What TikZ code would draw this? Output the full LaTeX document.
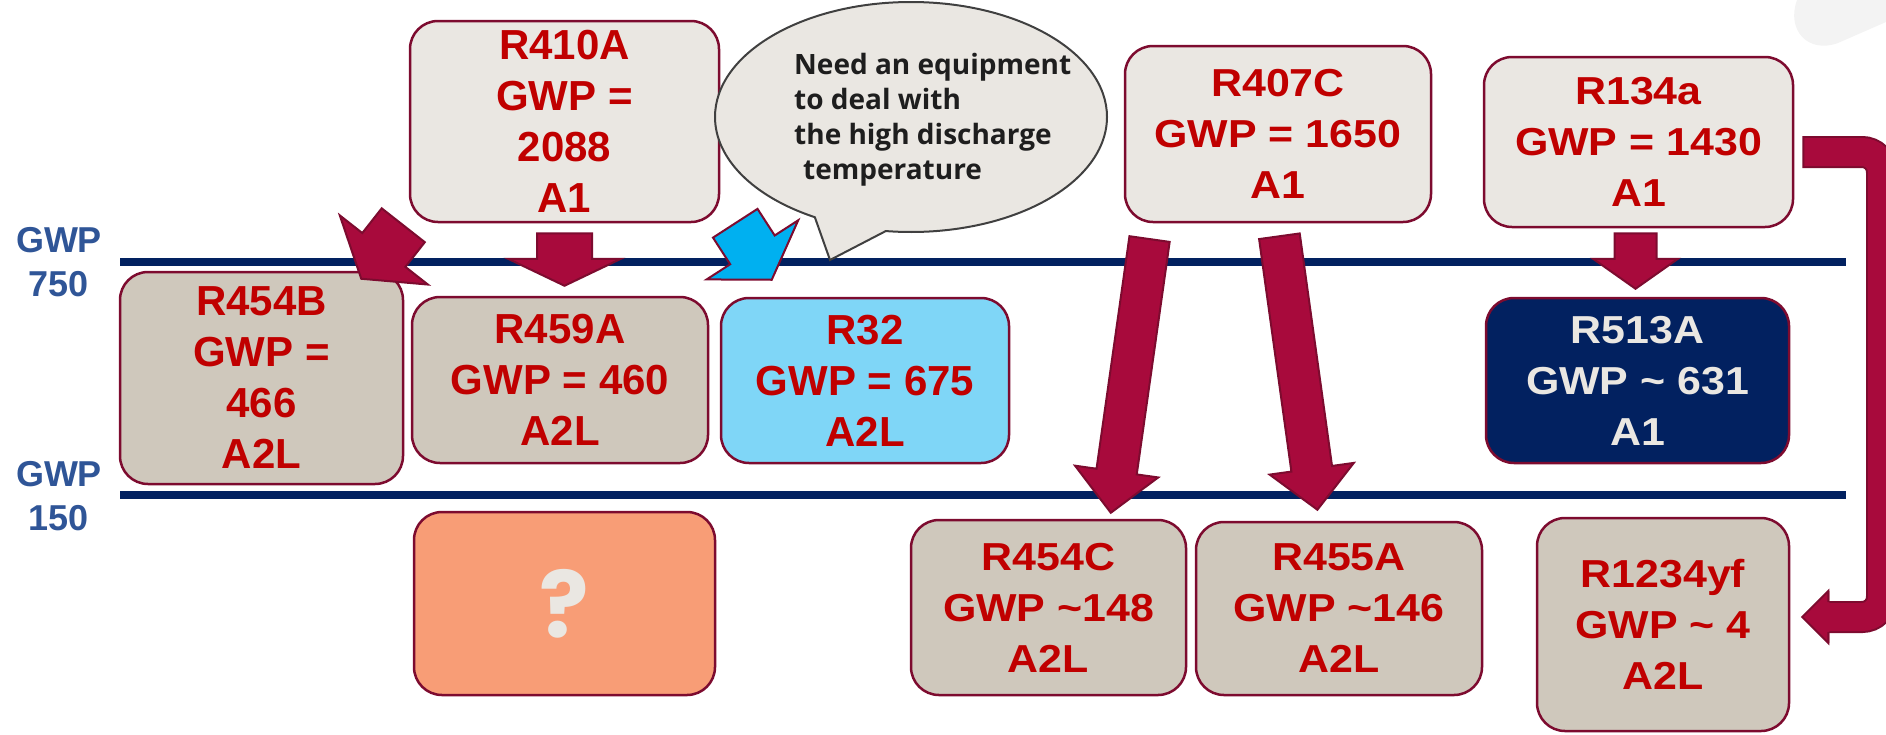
\documentclass[tikz,border=0pt]{standalone}
\usepackage{fontspec}
\usetikzlibrary{calc,shapes.callouts}
\setmainfont{Liberation Sans}
\newfontfamily\leftfont{Liberation Sans}
\newfontfamily\rightfont{Liberation Sans}[FakeStretch=1.1]
\newfontfamily\notefont{Open Sans}
\newfontfamily\qfont{Poppins}

\definecolor{paleBox}{HTML}{EAE7E2}
\definecolor{sandBox}{HTML}{CFC8BC}
\definecolor{skyBox}{HTML}{7FD6F7}
\definecolor{navy}{HTML}{022160}
\definecolor{salmon}{HTML}{F89D76}
\definecolor{wine}{HTML}{7D0B2F}
\definecolor{crimson}{HTML}{A80A3C}
\definecolor{refRed}{HTML}{C00000}
\definecolor{labelBlue}{HTML}{2F5597}
\definecolor{cyanArrow}{HTML}{00B0F0}
\definecolor{bubbleEdge}{HTML}{404040}
\definecolor{inkDark}{HTML}{1E1E1E}
\definecolor{haze}{HTML}{F3F3F3}

% block arrow: #1 style, #2 tail, #3 tip, #4 half shaft width, #5 half head width, #6 head length
\newcommand\blockarrow[6]{%
  \coordinate (hb) at ($(#3)!#6!(#2)$);
  \draw[#1] ($(#2)!#4!90:(#3)$) -- ($(hb)!#4!-90:(#2)$) -- ($(hb)!#5!-90:(#2)$)
    -- (#3) -- ($(hb)!#5!90:(#2)$) -- ($(hb)!#4!90:(#2)$) -- ($(#2)!#4!-90:(#3)$) -- cycle;
}

\tikzset{
  box/.style={draw=wine, line width=2.5pt, rounded corners=28pt, inner sep=0pt, align=center},
  lbox/.style={box, font=\leftfont\bfseries\fontsize{42}{51}\selectfont, text=refRed},
  rbox/.style={box, font=\rightfont\bfseries\fontsize{39}{51}\selectfont, text=refRed},
  level/.style={draw=navy, line width=8pt},
  gwplabel/.style={font=\leftfont\bfseries\fontsize{36}{44}\selectfont, text=labelBlue, align=center},
  redarrow/.style={fill=crimson, draw=wine, line width=2pt, line join=miter},
  bluearrow/.style={fill=cyanArrow, draw=wine, line width=2pt, line join=miter},
}

\begin{document}
\begin{tikzpicture}[x=1pt, y=-1pt]
\useasboundingbox (0,0) rectangle (1886,734);

% faint background shape in the corner
\fill[haze] (1797,0) -- (1886,0) -- (1886,22) -- (1838,43)
  .. controls (1808,54) and (1786,30) .. (1797,0) -- cycle;

% GWP threshold lines
\coordinate (hiL) at (120,262);  \coordinate (hiR) at (1846,262);
\coordinate (loL) at (120,495);  \coordinate (loR) at (1846,495);
\draw[level] (hiL) -- (hiR);
\draw[level] (loL) -- (loR);

\node[gwplabel] (gwp750) at (59,262) {GWP\\750};
\node[gwplabel] (gwp150) at (59,496) {GWP\\150};

% refrigerant boxes
\node[lbox, fill=paleBox, minimum width=309pt, minimum height=201pt] (r410a) at (564.5,121.5) {R410A\\GWP =\\2088\\A1};
\node[lbox, fill=sandBox, minimum width=283pt, minimum height=212pt] (r454b) at (261.5,378) {R454B\\GWP =\\466\\A2L};
\node[lbox, fill=sandBox, minimum width=296pt, minimum height=166pt] (r459a) at (560,380) {R459A\\GWP = 460\\A2L};
\node[lbox, fill=skyBox, minimum width=288pt, minimum height=165pt] (r32) at (865,380.5) {R32\\GWP = 675\\A2L};
\node[box, fill=salmon, minimum width=301pt, minimum height=183pt,
      font=\qfont\bfseries\fontsize{92}{92}\selectfont, text=paleBox] (unknown) at (564.5,603.5) {?};

\node[rbox, fill=paleBox, minimum width=306pt, minimum height=176pt] (r407c) at (1278,134) {R407C\\GWP = 1650\\A1};
\node[rbox, fill=paleBox, minimum width=309pt, minimum height=170pt] (r134a) at (1638.5,142) {R134a\\GWP = 1430\\A1};
\node[rbox, fill=navy, text=paleBox, minimum width=303pt, minimum height=165pt] (r513a) at (1637.5,380.5) {R513A\\GWP \textasciitilde{} 631\\A1};
\node[rbox, fill=sandBox, minimum width=275pt, minimum height=175pt] (r454c) at (1048.5,607.5) {R454C\\GWP \textasciitilde148\\A2L};
\node[rbox, fill=sandBox, minimum width=286pt, minimum height=173pt] (r455a) at (1339,608.5) {R455A\\GWP \textasciitilde146\\A2L};
\node[rbox, fill=sandBox, minimum width=252pt, minimum height=213pt] (r1234yf) at (1663,624.5) {R1234yf\\GWP \textasciitilde{} 4\\A2L};

% speech bubble
\coordinate (bubbleTip) at (830,260);
\node[ellipse callout, draw=bubbleEdge, fill=paleBox, line width=2pt,
      minimum width=392pt, minimum height=230pt, inner sep=0pt,
      callout absolute pointer={(bubbleTip)}, callout pointer arc=22] (bubble) at (911,117) {};
\node[font=\notefont\bfseries\fontsize{28}{35}\selectfont, text=inkDark, align=left,
      anchor=west, inner sep=0pt] (note) at ($(bubble.center)+(-117,3)$)
  {Need an equipment\\to deal with\\the high discharge\\\hspace*{9pt}temperature};

% straight block arrows
\coordinate (aTail) at ($(r410a.south)+(0,10)$);
\coordinate (aTip)  at ($(aTail |- r459a.north)+(0,-10)$);
\blockarrow{redarrow}{aTail}{aTip}{27.5pt}{56.5pt}{27pt}

\coordinate (bTail) at ($(r410a.south west)+(-5.5,2)$);
\coordinate (bTip)  at ($(r454b.north east)+(-43,8)$);
\blockarrow{redarrow}{bTail}{bTip}{27.4pt}{56pt}{36.6pt}

\coordinate (cTail) at ($(r410a.south east)+(15,0)$);
\coordinate (cTip)  at ($(r32.north west)+(52,-17)$);
\blockarrow{bluearrow}{cTail}{cTip}{26.5pt}{54.5pt}{35.6pt}

\coordinate (dTail) at ($(r407c.south west)+(25.8,15.8)$);
\coordinate (dTip)  at ($(r454c.north)+(62.3,-6)$);
\blockarrow{redarrow}{dTail}{dTip}{20.3pt}{42pt}{41.6pt}

\coordinate (eTail) at ($(r407c.south)+(1.4,13)$);
\coordinate (eTip)  at ($(r455a.north)+(-21.6,-11)$);
\blockarrow{redarrow}{eTail}{eTip}{20.5pt}{42.5pt}{41.4pt}

\coordinate (fTail) at ($(r134a.south)+(-3,5)$);
\coordinate (fTip)  at ($(r513a.north)+(-2,-8)$);
\blockarrow{redarrow}{fTail}{fTip}{21pt}{42.5pt}{30pt}

% bent arrow from R134a to R1234yf
\coordinate (bendStart) at ($(r134a.east)+(9,10)$);
\coordinate (bendTip)   at ($(r1234yf.east)+(12,-7.5)$);
\coordinate (bendTop)   at (1882,152);
\coordinate (bendBottom) at (bendTop |- bendTip);
\coordinate (bendBase)  at ($(bendTip)+(26,0)$);
\draw[wine, line width=32pt, rounded corners=20pt]
  ($(bendStart)+(-1,0)$) -- (bendTop) -- (bendBottom) -- (bendBase);
\draw[crimson, line width=28pt, rounded corners=20pt]
  ($(bendStart)+(1,0)$) -- (bendTop) -- (bendBottom) -- (bendBase);
\fill[crimson] ($(bendBase)+(1,-26)$) -- (bendTip) -- ($(bendBase)+(1,26)$) -- cycle;
\draw[wine, line width=2pt, line join=miter]
  ($(bendBase)+(0,-15)$) -- ($(bendBase)+(0,-26)$) -- (bendTip)
  -- ($(bendBase)+(0,26)$) -- ($(bendBase)+(0,15)$);
\end{tikzpicture}
\end{document}
